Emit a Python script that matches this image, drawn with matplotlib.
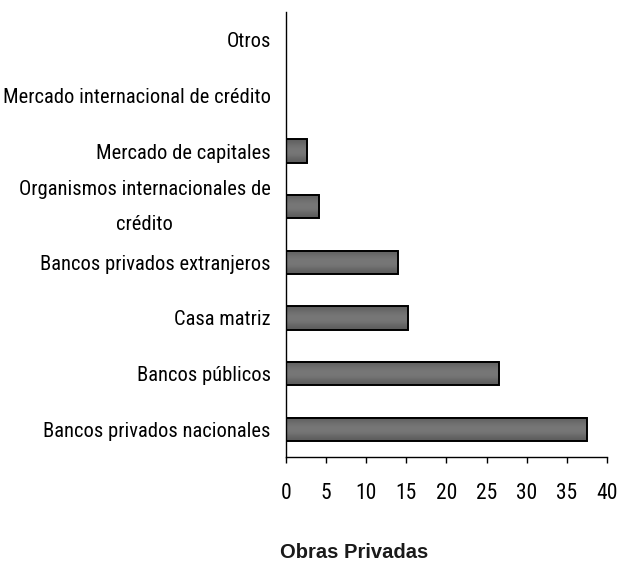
import numpy as np
import matplotlib.pyplot as plt

categorias = ['Bancos privados nacionales', 'Bancos públicos', 'Casa matriz',
              'Bancos privados extranjeros', 'Organismos internacionales de\ncrédito',
              'Mercado de capitales', 'Mercado internacional de crédito', 'Otros']
valores = [37.5, 26.5, 15.2, 13.9, 4.1, 2.65, 0, 0]
xticks = [0, 5, 10, 15, 20, 25, 30, 35, 40]

narrow = ['Roboto Condensed', 'DejaVu Sans']

fig = plt.figure(figsize=(6.19, 5.62), dpi=100)
ax = fig.add_axes([286/619, 1 - 457/562, 321/619, 445/562])

y = np.arange(len(categorias))
bars = ax.barh(y, valores, height=0.42, color='#717171', edgecolor='black', lw=1.4)
# light gradient inside the bars
for b in bars:
    w = b.get_width()
    if w <= 0:
        continue
    yb, h = b.get_y(), b.get_height()
    grad = np.array([0.38, 0.45, 0.47, 0.45, 0.36]).reshape(-1, 1)
    ax.imshow(grad, cmap='gray', vmin=0, vmax=1, aspect='auto',
              extent=[0, w, yb, yb + h], zorder=b.get_zorder() - 0.1, interpolation='bicubic')
    b.set_facecolor('none')

ax.set_xlim(0, 40)
ax.set_ylim(-0.5, len(categorias) - 0.5)
ax.set_xticks(xticks)
# the two-line label sits a little higher in the original (y ticks are invisible)
ytick_pos = y.astype(float)
ytick_pos[4] += 0.17
ax.set_yticks(ytick_pos)
ax.set_yticklabels(categorias, family=narrow, fontsize=14.8, linespacing=2.05,
                   multialignment='center')
for lbl in ax.get_xticklabels():
    lbl.set_family(narrow)
    lbl.set_fontsize(15.5)
ax.tick_params(axis='y', length=0, pad=11)
ax.tick_params(axis='x', length=4.5, width=1, pad=14, direction='out')
ax.spines['top'].set_visible(False)
ax.spines['right'].set_visible(False)
ax.spines['left'].set_linewidth(1)
ax.spines['bottom'].set_linewidth(1)

fig.text(354/619, 1 - 553/562, 'Obras Privadas', ha='center', va='center',
         fontsize=14.5, fontweight='bold', family='Liberation Sans', color='#1a1a1a')

fig.savefig('out.png', dpi=100)
